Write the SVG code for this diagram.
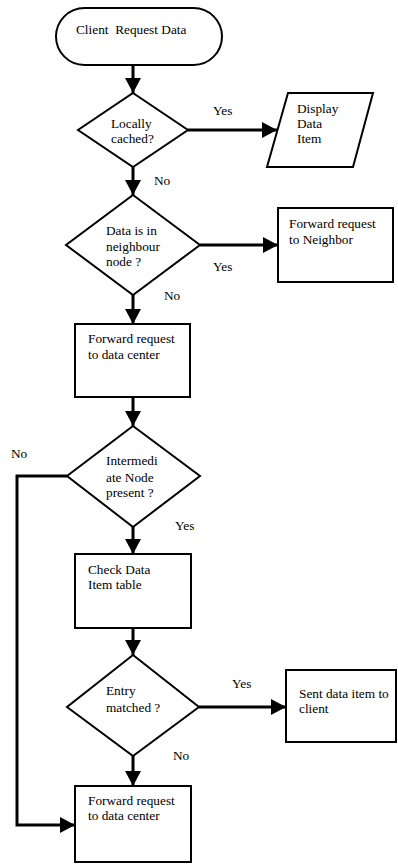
<svg xmlns="http://www.w3.org/2000/svg" width="398" height="864" viewBox="0 0 398 864">
  <style>
    .shape { fill: #ffffff; stroke: #000000; stroke-width: 2; }
    .conn { fill: none; stroke: #000000; stroke-width: 3; }
    .lbl { font-family: 'Liberation Serif', 'Times New Roman', 'DejaVu Serif', serif; font-size: 13.3px; fill: #000000; white-space: pre; }
  </style>
  <defs>
    <marker id="arrow" markerUnits="userSpaceOnUse" markerWidth="16" markerHeight="16" refX="15" refY="8" orient="auto">
      <path d="M0,0 L15,8 L0,16 z" fill="#000000"/>
    </marker>
  </defs>

  <rect width="398" height="864" fill="#ffffff"/>

  <!-- connectors with their branch labels -->
  <g id="connectors">
    <line class="conn" x1="133" y1="65" x2="133" y2="93" marker-end="url(#arrow)"/>
    <line class="conn" x1="188" y1="130" x2="277" y2="130" marker-end="url(#arrow)"/>
    <line class="conn" x1="133" y1="167" x2="133" y2="195" marker-end="url(#arrow)"/>
    <line class="conn" x1="200" y1="245" x2="278" y2="245" marker-end="url(#arrow)"/>
    <line class="conn" x1="133" y1="295" x2="133" y2="324" marker-end="url(#arrow)"/>
    <line class="conn" x1="133" y1="397" x2="133" y2="426" marker-end="url(#arrow)"/>
    <line class="conn" x1="133" y1="527" x2="133" y2="554" marker-end="url(#arrow)"/>
    <line class="conn" x1="133" y1="628" x2="133" y2="655" marker-end="url(#arrow)"/>
    <line class="conn" x1="199" y1="707" x2="286" y2="707" marker-end="url(#arrow)"/>
    <line class="conn" x1="133" y1="756" x2="133" y2="786" marker-end="url(#arrow)"/>
    <polyline class="conn" points="67,476 17,476 17,825 75,825" marker-end="url(#arrow)"/>
    <text class="lbl" x="213" y="115">Yes</text>
    <text class="lbl" x="154" y="185">No</text>
    <text class="lbl" x="213" y="271">Yes</text>
    <text class="lbl" x="164" y="300">No</text>
    <text class="lbl" x="11" y="458">No</text>
    <text class="lbl" x="175" y="530">Yes</text>
    <text class="lbl" x="232" y="688">Yes</text>
    <text class="lbl" x="173" y="760">No</text>
  </g>

  <g id="start">
    <rect class="shape" x="56" y="8" width="166" height="57" rx="28.5" ry="28.5"/>
    <text class="lbl" x="76" y="34" xml:space="preserve">Client  Request Data</text>
  </g>

  <g id="locally-cached">
    <polygon class="shape" points="133,93 188,130 133,167 78,130"/>
    <text class="lbl" x="111" y="128">Locally</text>
    <text class="lbl" x="111" y="143">cached?</text>
  </g>

  <g id="display-item">
    <polygon class="shape" points="288,93 373,93 353,167 267,167"/>
    <text class="lbl" x="297" y="113">Display</text>
    <text class="lbl" x="297" y="128">Data</text>
    <text class="lbl" x="297" y="143">Item</text>
  </g>

  <g id="neighbour-check">
    <polygon class="shape" points="133,195 200,245 133,295 66,245"/>
    <text class="lbl" x="106" y="235">Data is in</text>
    <text class="lbl" x="106" y="251">neighbour</text>
    <text class="lbl" x="106" y="266">node ?</text>
  </g>

  <g id="forward-neighbor">
    <rect class="shape" x="278" y="208" width="115" height="74"/>
    <text class="lbl" x="289" y="228">Forward request</text>
    <text class="lbl" x="289" y="244">to Neighbor</text>
  </g>

  <g id="forward-datacenter-1">
    <rect class="shape" x="75" y="324" width="115" height="73"/>
    <text class="lbl" x="88" y="343">Forward request</text>
    <text class="lbl" x="88" y="359">to data center</text>
  </g>

  <g id="intermediate-check">
    <polygon class="shape" points="133,426 200,476 133,527 67,476"/>
    <text class="lbl" x="106" y="465">Intermedi</text>
    <text class="lbl" x="106" y="482">ate Node</text>
    <text class="lbl" x="106" y="497">present ?</text>
  </g>

  <g id="check-table">
    <rect class="shape" x="75" y="554" width="116" height="74"/>
    <text class="lbl" x="88" y="574">Check Data</text>
    <text class="lbl" x="88" y="589">Item table</text>
  </g>

  <g id="entry-check">
    <polygon class="shape" points="133,655 199,707 133,756 67,707"/>
    <text class="lbl" x="106" y="695">Entry</text>
    <text class="lbl" x="106" y="712">matched ?</text>
  </g>

  <g id="send-client">
    <rect class="shape" x="286" y="670" width="110" height="72"/>
    <text class="lbl" x="299" y="698">Sent data item to</text>
    <text class="lbl" x="299" y="713">client</text>
  </g>

  <g id="forward-datacenter-2">
    <rect class="shape" x="75" y="786" width="116" height="76"/>
    <text class="lbl" x="88" y="805">Forward request</text>
    <text class="lbl" x="88" y="820">to data center</text>
  </g>
</svg>
